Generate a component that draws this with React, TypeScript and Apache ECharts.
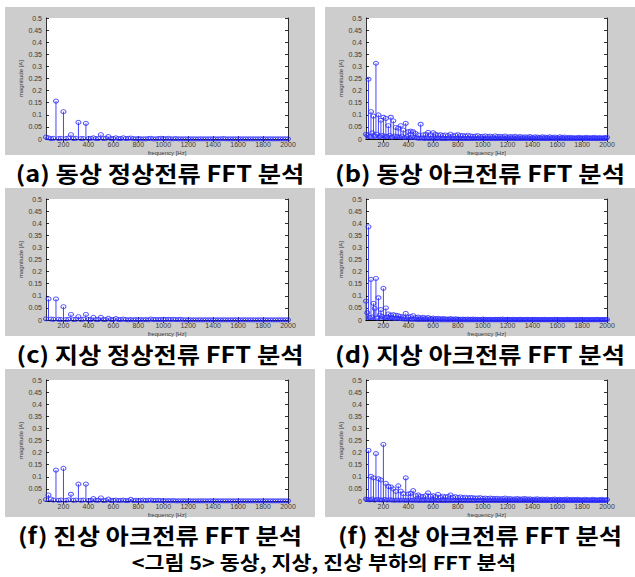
import React, { useEffect, useRef } from "react";
import * as echarts from "echarts";

// ---- axes ----
const FREQ_MIN = 60;
const FREQ_MAX = 2000;
const FREQ_STEP = 20; // spacing of the main FFT bins
const MID_OFFSET = 10; // interleaved bins of the arc spectra
const xTickValues = [200, 400, 600, 800, 1000, 1200, 1400, 1600, 1800, 2000];
const Y_MAX = 0.5;
const Y_STEP = 0.05;
const xAxisName = "frequency [Hz]";
const yAxisName = "magnitude [A]";

const captions = [
  "(a) 동상 정상전류 FFT 분석",
  "(b) 동상 아크전류 FFT 분석",
  "(c) 지상 정상전류 FFT 분석",
  "(d) 지상 아크전류 FFT 분석",
  "(f) 진상 아크전류 FFT 분석",
  "(f) 진상 아크전류 FFT 분석",
];
const figureTitle = "<그림 5> 동상, 지상, 진상 부하의 FFT 분석";

// ---- magnitudes [A] at 60, 80, 100, ... 2000 Hz ----
const normalLag = [
  0.008, 0.005, 0.002, 0.003, 0.157, 0.002, 0.003, 0.113, 0.002, 0.004,
  0.018, 0.002, 0.003, 0.069, 0.002, 0.002, 0.065, 0.002, 0.003, 0.005,
  0.002, 0.002, 0.018, 0.002, 0.003, 0.010, 0.002, 0.002, 0.005, 0.002,
  0.002, 0.005, 0.002, 0.003, 0.004, 0.002, 0.001, 0.002, 0.001, 0.001,
  0.001, 0.002, 0.003, 0.001, 0.001, 0.002, 0.003, 0.002, 0.001, 0.003,
  0.001, 0.001, 0.002, 0.001, 0.001, 0.001, 0.001, 0.001, 0.001, 0.001,
  0.001, 0.001, 0.001, 0.001, 0.001, 0.001, 0.001, 0.001, 0.001, 0.001,
  0.001, 0.002, 0.001, 0.001, 0.001, 0.001, 0.001, 0.001, 0.001, 0.001,
  0.001, 0.001, 0.001, 0.001, 0.001, 0.001, 0.001, 0.001, 0.001, 0.001,
  0.001, 0.001, 0.001, 0.001, 0.001, 0.001, 0.001, 0.001,
];
const arcLag = [
  0.020, 0.247, 0.113, 0.095, 0.313, 0.100, 0.078, 0.090, 0.085, 0.055,
  0.090, 0.075, 0.048, 0.045, 0.055, 0.037, 0.065, 0.030, 0.033, 0.030,
  0.023, 0.017, 0.061, 0.017, 0.020, 0.027, 0.018, 0.026, 0.020, 0.016,
  0.018, 0.015, 0.017, 0.014, 0.020, 0.013, 0.016, 0.018, 0.014, 0.015,
  0.012, 0.016, 0.013, 0.011, 0.012, 0.014, 0.010, 0.011, 0.013, 0.010,
  0.012, 0.009, 0.013, 0.010, 0.011, 0.009, 0.012, 0.008, 0.010, 0.009,
  0.011, 0.008, 0.010, 0.008, 0.009, 0.008, 0.010, 0.007, 0.009, 0.008,
  0.007, 0.009, 0.008, 0.007, 0.009, 0.007, 0.008, 0.006, 0.009, 0.007,
  0.008, 0.006, 0.007, 0.006, 0.005, 0.006, 0.007, 0.005, 0.006, 0.007,
  0.005, 0.006, 0.007, 0.005, 0.006, 0.005, 0.006, 0.007,
];
const normalLead0 = [
  0.005, 0.087, 0.004, 0.003, 0.087, 0.003, 0.002, 0.055, 0.002, 0.003,
  0.023, 0.002, 0.003, 0.014, 0.002, 0.003, 0.023, 0.002, 0.002, 0.011,
  0.002, 0.002, 0.011, 0.002, 0.002, 0.007, 0.002, 0.002, 0.006, 0.002,
  0.002, 0.004, 0.002, 0.001, 0.002, 0.001, 0.002, 0.001, 0.002, 0.001,
  0.002, 0.001, 0.004, 0.002, 0.002, 0.002, 0.002, 0.003, 0.002, 0.003,
  0.002, 0.003, 0.002, 0.002, 0.003, 0.001, 0.001, 0.001, 0.001, 0.001,
  0.001, 0.001, 0.001, 0.001, 0.001, 0.001, 0.001, 0.001, 0.001, 0.001,
  0.001, 0.001, 0.001, 0.001, 0.001, 0.001, 0.001, 0.001, 0.001, 0.001,
  0.001, 0.001, 0.001, 0.001, 0.001, 0.001, 0.001, 0.001, 0.001, 0.001,
  0.001, 0.001, 0.001, 0.001, 0.001, 0.001, 0.001, 0.001,
];
const arcLead0 = [
  0.078, 0.385, 0.168, 0.069, 0.172, 0.092, 0.043, 0.131, 0.050, 0.025,
  0.020, 0.022, 0.020, 0.018, 0.015, 0.012, 0.027, 0.012, 0.015, 0.018,
  0.010, 0.012, 0.009, 0.011, 0.008, 0.010, 0.007, 0.008, 0.006, 0.007,
  0.005, 0.006, 0.005, 0.004, 0.006, 0.004, 0.005, 0.004, 0.003, 0.004,
  0.003, 0.004, 0.003, 0.004, 0.003, 0.003, 0.002, 0.004, 0.003, 0.002,
  0.003, 0.002, 0.003, 0.002, 0.003, 0.004, 0.002, 0.003, 0.002, 0.003,
  0.002, 0.002, 0.003, 0.002, 0.002, 0.003, 0.002, 0.002, 0.003, 0.002,
  0.002, 0.002, 0.003, 0.002, 0.002, 0.002, 0.003, 0.002, 0.002, 0.002,
  0.002, 0.003, 0.002, 0.002, 0.002, 0.002, 0.003, 0.002, 0.002, 0.002,
  0.002, 0.002, 0.002, 0.003, 0.002, 0.002, 0.002, 0.002,
];
const normalLead = [
  0.006, 0.025, 0.008, 0.004, 0.128, 0.003, 0.004, 0.135, 0.003, 0.005,
  0.028, 0.003, 0.004, 0.070, 0.003, 0.004, 0.070, 0.002, 0.003, 0.010,
  0.003, 0.003, 0.013, 0.002, 0.003, 0.008, 0.002, 0.003, 0.004, 0.002,
  0.003, 0.004, 0.002, 0.002, 0.007, 0.002, 0.003, 0.002, 0.003, 0.004,
  0.002, 0.003, 0.004, 0.002, 0.002, 0.003, 0.002, 0.002, 0.001, 0.002,
  0.001, 0.002, 0.001, 0.001, 0.001, 0.001, 0.001, 0.001, 0.001, 0.001,
  0.001, 0.001, 0.001, 0.001, 0.001, 0.001, 0.001, 0.001, 0.001, 0.001,
  0.001, 0.001, 0.001, 0.001, 0.001, 0.001, 0.001, 0.001, 0.001, 0.001,
  0.001, 0.001, 0.001, 0.001, 0.001, 0.001, 0.001, 0.001, 0.001, 0.001,
  0.001, 0.001, 0.001, 0.001, 0.001, 0.001, 0.001, 0.001,
];
const arcLead = [
  0.008, 0.209, 0.102, 0.096, 0.196, 0.092, 0.087, 0.234, 0.073, 0.060,
  0.058, 0.050, 0.040, 0.063, 0.041, 0.030, 0.096, 0.029, 0.032, 0.043,
  0.022, 0.025, 0.020, 0.018, 0.022, 0.034, 0.020, 0.022, 0.018, 0.027,
  0.016, 0.020, 0.017, 0.019, 0.025, 0.016, 0.018, 0.015, 0.017, 0.014,
  0.016, 0.013, 0.015, 0.014, 0.012, 0.013, 0.014, 0.011, 0.012, 0.010,
  0.012, 0.011, 0.010, 0.011, 0.009, 0.010, 0.012, 0.009, 0.010, 0.008,
  0.009, 0.010, 0.008, 0.009, 0.010, 0.008, 0.009, 0.007, 0.008, 0.009,
  0.007, 0.008, 0.007, 0.008, 0.006, 0.007, 0.008, 0.006, 0.007, 0.006,
  0.007, 0.008, 0.006, 0.007, 0.006, 0.007, 0.006, 0.005, 0.007, 0.006,
  0.005, 0.007, 0.006, 0.005, 0.006, 0.007, 0.005, 0.006,
];

// ---- interleaved bins of the arc spectra, at 70, 90, ... 1990 Hz ----
const arcLagMid = [
  0.015, 0.010, 0.025, 0.012, 0.020, 0.010, 0.015, 0.012, 0.010, 0.015,
  0.008, 0.012, 0.010, 0.008, 0.012, 0.006, 0.010, 0.005, 0.008, 0.006,
  0.004, 0.003, 0.004, 0.002, 0.003, 0.002, 0.003, 0.002, 0.002, 0.003,
  0.002, 0.002, 0.002, 0.003, 0.002, 0.002, 0.002, 0.002, 0.002, 0.002,
  0.002, 0.002, 0.002, 0.002, 0.002, 0.002, 0.002, 0.002, 0.002, 0.002,
  0.002, 0.002, 0.002, 0.002, 0.002, 0.002, 0.002, 0.002, 0.002, 0.002,
  0.002, 0.002, 0.002, 0.002, 0.002, 0.002, 0.002, 0.002, 0.002, 0.002,
  0.002, 0.002, 0.002, 0.002, 0.002, 0.002, 0.002, 0.002, 0.002, 0.002,
  0.002, 0.002, 0.002, 0.002, 0.002, 0.002, 0.002, 0.002, 0.002, 0.002,
  0.002, 0.002, 0.002, 0.002, 0.002, 0.002, 0.002,
];
const arcLead0Mid = [
  0.030, 0.010, 0.012, 0.048, 0.008, 0.020, 0.015, 0.010, 0.012, 0.008,
  0.010, 0.006, 0.008, 0.006, 0.005, 0.004, 0.004, 0.003, 0.003, 0.003,
  0.002, 0.002, 0.002, 0.002, 0.002, 0.001, 0.002, 0.001, 0.001, 0.001,
  0.001, 0.001, 0.001, 0.001, 0.001, 0.001, 0.001, 0.001, 0.001, 0.001,
  0.001, 0.001, 0.001, 0.001, 0.001, 0.001, 0.001, 0.001, 0.001, 0.001,
  0.001, 0.001, 0.001, 0.001, 0.001, 0.001, 0.001, 0.001, 0.001, 0.001,
  0.001, 0.001, 0.001, 0.001, 0.001, 0.001, 0.001, 0.001, 0.001, 0.001,
  0.001, 0.001, 0.001, 0.001, 0.001, 0.001, 0.001, 0.001, 0.001, 0.001,
  0.001, 0.001, 0.001, 0.001, 0.001, 0.001, 0.001, 0.001, 0.001, 0.001,
  0.001, 0.001, 0.001, 0.001, 0.001, 0.001, 0.001,
];
const arcLeadMid = [
  0.006, 0.005, 0.008, 0.004, 0.006, 0.005, 0.004, 0.006, 0.004, 0.005,
  0.004, 0.003, 0.004, 0.003, 0.004, 0.003, 0.003, 0.004, 0.003, 0.003,
  0.003, 0.002, 0.003, 0.002, 0.003, 0.002, 0.002, 0.003, 0.002, 0.002,
  0.002, 0.002, 0.002, 0.002, 0.002, 0.002, 0.002, 0.002, 0.002, 0.002,
  0.002, 0.002, 0.002, 0.002, 0.002, 0.002, 0.002, 0.002, 0.002, 0.002,
  0.002, 0.002, 0.002, 0.002, 0.002, 0.002, 0.002, 0.002, 0.002, 0.002,
  0.002, 0.002, 0.002, 0.002, 0.002, 0.002, 0.002, 0.002, 0.002, 0.002,
  0.002, 0.002, 0.002, 0.002, 0.002, 0.002, 0.002, 0.002, 0.002, 0.002,
  0.002, 0.002, 0.002, 0.002, 0.002, 0.002, 0.002, 0.002, 0.002, 0.002,
  0.002, 0.002, 0.002, 0.002, 0.002, 0.002, 0.002,
];

const panelValues = [normalLag, arcLag, normalLead0, arcLead0, normalLead, arcLead];
const panelMidValues = [null, arcLagMid, null, arcLead0Mid, null, arcLeadMid];

// ---- layout ----
const W = 635;
const H = 577;
const COL_BG_X = [5, 325];
const COL_BG_W = 310;
const ROW_BG_Y = [7, 188, 369];
const ROW_BG_H = 148;
const COL_PLOT_X = [46, 366];
const COL_PLOT_W = [242, 241];
const ROW_PLOT_Y = [18, 199, 380];
const PLOT_H = 121;
const CAPTION_Y = [173, 354, 535];
const CAPTION_SCALE_X = 1.15;
const TITLE_X = 324;
const TITLE_Y = 562;
const TITLE_SCALE_X = 1.14;

const BG_GRAY = "#cdcdcd";
const STEM_COLOR = "#4646ff";
const MARK_COLOR = "#2a2aff";
const TICK_LABEL_COLOR = "#3a3a3a";
const FONT_KR = '"Noto Sans CJK KR", "Noto Sans", sans-serif';
const FONT_TICK = '"Liberation Sans", Arial, sans-serif';

function toPairs(vals: number[], start: number) {
  return vals.map((v, i) => [start + i * FREQ_STEP, v]);
}

function App() {
  const ref = useRef<HTMLDivElement>(null);

  useEffect(() => {
    document.body.style.margin = "0";
    const chart = echarts.init(ref.current as HTMLDivElement, null, { renderer: "svg" });

    const grids: any[] = [];
    const xAxes: any[] = [];
    const yAxes: any[] = [];
    const series: any[] = [];
    const graphics: any[] = [];

    const tickStyle = { show: true, inside: true, length: 3, lineStyle: { color: "#000", width: 0.8 } };
    const lineStyle = { show: true, lineStyle: { color: "#000", width: 0.8 } };

    const stemRender = (params: any, api: any) => {
      const x = api.value(0);
      const y = api.value(1);
      const p0 = api.coord([x, 0]);
      const p1 = api.coord([x, y]);
      return {
        type: "line",
        shape: { x1: p0[0], y1: p0[1], x2: p1[0], y2: p1[1] },
        style: { stroke: STEM_COLOR, lineWidth: 1 },
      };
    };

    for (let p = 0; p < 6; p++) {
      const col = p % 2;
      const row = Math.floor(p / 2);

      graphics.push({
        type: "rect",
        z: -10,
        shape: { x: COL_BG_X[col], y: ROW_BG_Y[row], width: COL_BG_W, height: ROW_BG_H },
        style: { fill: BG_GRAY },
        silent: true,
      });
      graphics.push({
        type: "text",
        x: COL_BG_X[col] + COL_BG_W / 2,
        y: CAPTION_Y[row],
        scaleX: CAPTION_SCALE_X,
        style: {
          text: captions[p],
          align: "center",
          verticalAlign: "middle",
          fontSize: 22,
          fontWeight: "bold",
          fontFamily: FONT_KR,
          fill: "#000",
        },
      });

      grids.push({
        left: COL_PLOT_X[col],
        top: ROW_PLOT_Y[row],
        width: COL_PLOT_W[col],
        height: PLOT_H,
        show: true,
        backgroundColor: "#fff",
        borderWidth: 0,
        containLabel: false,
      });

      // bottom x axis
      xAxes.push({
        gridIndex: p,
        type: "value",
        min: FREQ_MIN,
        max: FREQ_MAX,
        position: "bottom",
        axisLine: lineStyle,
        axisTick: { ...tickStyle, customValues: xTickValues },
        axisLabel: {
          customValues: xTickValues,
          fontSize: 7,
          color: TICK_LABEL_COLOR,
          margin: 2,
          fontFamily: FONT_TICK,
          formatter: (v: number) => String(v),
        },
        splitLine: { show: false },
        name: xAxisName,
        nameLocation: "middle",
        nameGap: 11,
        nameTextStyle: { fontSize: 6, color: TICK_LABEL_COLOR, fontFamily: FONT_TICK },
      });
      // top x axis (box)
      xAxes.push({
        gridIndex: p,
        type: "value",
        min: FREQ_MIN,
        max: FREQ_MAX,
        position: "top",
        axisLine: lineStyle,
        axisTick: { ...tickStyle, customValues: xTickValues },
        axisLabel: { show: false },
        splitLine: { show: false },
      });
      // left y axis
      yAxes.push({
        gridIndex: p,
        type: "value",
        min: 0,
        max: Y_MAX,
        interval: Y_STEP,
        position: "left",
        axisLine: lineStyle,
        axisTick: tickStyle,
        axisLabel: {
          fontSize: 7,
          color: TICK_LABEL_COLOR,
          margin: 4,
          fontFamily: FONT_TICK,
          formatter: (v: number) => String(+v.toFixed(2)),
        },
        splitLine: { show: false },
        name: yAxisName,
        nameLocation: "middle",
        nameGap: 21,
        nameRotate: 90,
        nameTextStyle: { fontSize: 6, color: TICK_LABEL_COLOR, fontFamily: FONT_TICK },
      });
      // right y axis (box)
      yAxes.push({
        gridIndex: p,
        type: "value",
        min: 0,
        max: Y_MAX,
        interval: Y_STEP,
        position: "right",
        axisLine: lineStyle,
        axisTick: tickStyle,
        axisLabel: { show: false },
        splitLine: { show: false },
      });

      const sets: number[][][] = [toPairs(panelValues[p], FREQ_MIN)];
      const mid = panelMidValues[p];
      if (mid) sets.push(toPairs(mid, FREQ_MIN + MID_OFFSET));

      for (const data of sets) {
        series.push({
          type: "custom",
          xAxisIndex: 2 * p,
          yAxisIndex: 2 * p,
          data,
          encode: { x: 0, y: 1 },
          renderItem: stemRender,
          silent: true,
          z: 2,
        });
        series.push({
          type: "scatter",
          xAxisIndex: 2 * p,
          yAxisIndex: 2 * p,
          data,
          symbol: "circle",
          symbolSize: [5, 4],
          itemStyle: { color: "transparent", borderColor: MARK_COLOR, borderWidth: 1 },
          silent: true,
          z: 3,
        });
      }
    }

    graphics.push({
      type: "text",
      x: TITLE_X,
      y: TITLE_Y,
      scaleX: TITLE_SCALE_X,
      style: {
        text: figureTitle,
        align: "center",
        verticalAlign: "middle",
        fontSize: 19,
        lineHeight: 19,
        fontWeight: "bold",
        fontFamily: FONT_KR,
        fill: "#000",
      },
    });

    chart.setOption({
      animation: false,
      backgroundColor: "#fff",
      grid: grids,
      xAxis: xAxes,
      yAxis: yAxes,
      series,
      graphic: { elements: graphics },
    });

    return () => chart.dispose();
  }, []);

  return (
    <div
      ref={ref}
      style={{ position: "absolute", left: 0, top: 0, width: W, height: H }}
    />
  );
}

export default App;
